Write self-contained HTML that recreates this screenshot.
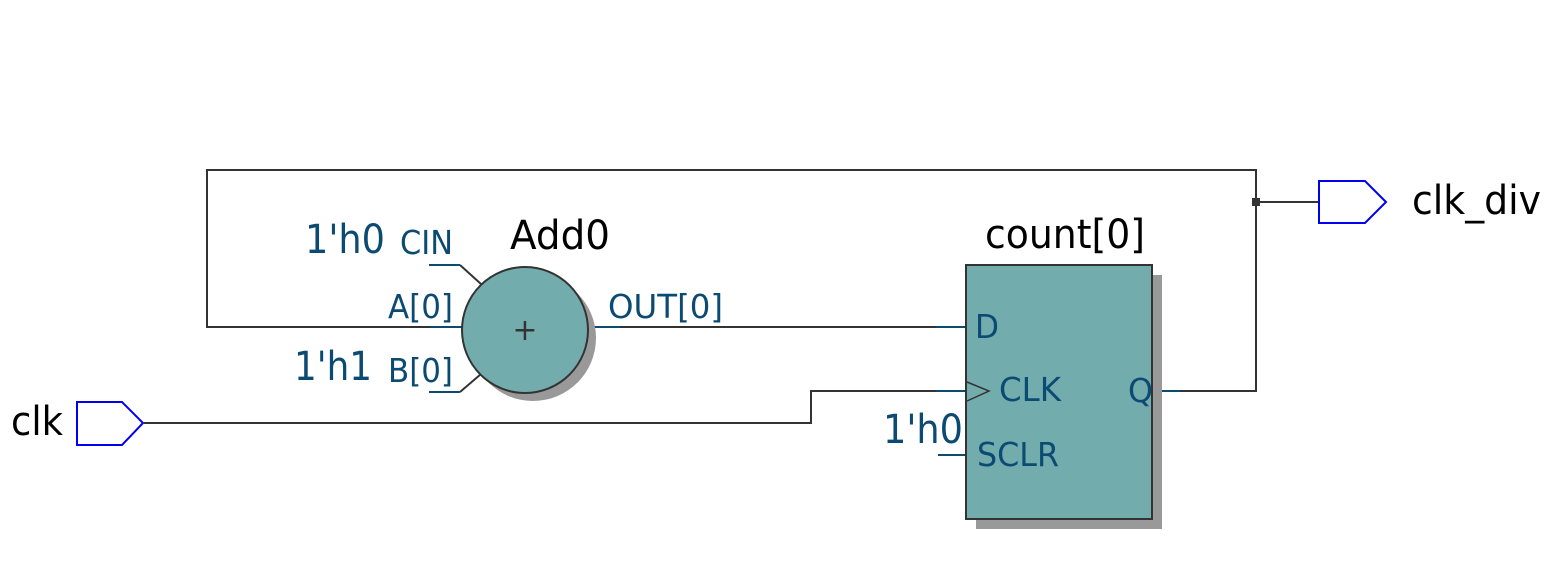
<!DOCTYPE html>
<html><head><meta charset="utf-8"><style>html,body{margin:0;padding:0;background:#fff}svg{display:block}</style></head>
<body>
<svg width="1550" height="581" xmlns="http://www.w3.org/2000/svg" font-family="DejaVu Sans, Liberation Sans, sans-serif">
<g stroke="#333" stroke-width="2" fill="none">
<polyline points="462,327 207,327 207,170 1256,170 1256,391 1152,391"/>
<line x1="1256" y1="202" x2="1319" y2="202"/>
<line x1="588" y1="327" x2="966" y2="327"/>
<polyline points="144,423 811,423 811,391 966,391"/>
<line x1="460" y1="265" x2="481" y2="284"/>
<line x1="460" y1="392" x2="481" y2="374"/>
</g>
<g stroke="#0b4a72" stroke-width="2">
<line x1="429" y1="265" x2="460" y2="265"/>
<line x1="429" y1="392" x2="460" y2="392"/>
<line x1="938" y1="455" x2="966" y2="455"/>
<line x1="430" y1="327" x2="462" y2="327"/>
<line x1="588" y1="327" x2="620" y2="327"/>
<line x1="936" y1="327" x2="966" y2="327"/>
<line x1="936" y1="391" x2="966" y2="391"/>
<line x1="1152" y1="391" x2="1180" y2="391"/>
</g>
<rect x="1252" y="198" width="8" height="8" fill="#333"/>
<polygon points="77,402 122,402 143,423 122,445 77,445" fill="#fff" stroke="#0000ee" stroke-width="2"/>
<polygon points="1319,181 1365,181 1386,202 1365,223 1319,223" fill="#fff" stroke="#0000ee" stroke-width="2"/>
<circle cx="533" cy="338" r="63" fill="#999"/>
<circle cx="525" cy="330" r="63" fill="#73acad" stroke="#333" stroke-width="2"/>
<text x="525" y="340" font-size="30" fill="#333" text-anchor="middle">+</text>
<rect x="976" y="275" width="186" height="254" fill="#999"/>
<rect x="966" y="265" width="186" height="254" fill="#73acad" stroke="#333" stroke-width="2"/>
<polyline points="967,382 989,391 967,401" fill="none" stroke="#333" stroke-width="1.5"/>
<g fill="#000">
<text x="11" y="435" font-size="40" textLength="52" lengthAdjust="spacingAndGlyphs">clk</text>
<text x="1412" y="214" font-size="40" textLength="129" lengthAdjust="spacingAndGlyphs">clk_div</text>
<text x="510" y="249" font-size="40" textLength="100" lengthAdjust="spacingAndGlyphs">Add0</text>
<text x="985" y="248" font-size="40" textLength="160" lengthAdjust="spacingAndGlyphs">count[0]</text>
</g>
<g fill="#0b4a72">
<text x="305" y="253" font-size="40" textLength="80" lengthAdjust="spacingAndGlyphs">1'h0</text>
<text x="294" y="380" font-size="40" textLength="78" lengthAdjust="spacingAndGlyphs">1'h1</text>
<text x="883" y="443" font-size="40" textLength="80" lengthAdjust="spacingAndGlyphs">1'h0</text>
<text x="400" y="254" font-size="33" textLength="53" lengthAdjust="spacingAndGlyphs">CIN</text>
<text x="388" y="318" font-size="33" textLength="65" lengthAdjust="spacingAndGlyphs">A[0]</text>
<text x="388" y="382" font-size="33" textLength="65" lengthAdjust="spacingAndGlyphs">B[0]</text>
<text x="608" y="318" font-size="33" textLength="115" lengthAdjust="spacingAndGlyphs">OUT[0]</text>
<text x="975" y="338" font-size="33" textLength="24" lengthAdjust="spacingAndGlyphs">D</text>
<text x="999" y="401" font-size="33" textLength="62" lengthAdjust="spacingAndGlyphs">CLK</text>
<text x="977" y="466" font-size="33" textLength="82" lengthAdjust="spacingAndGlyphs">SCLR</text>
<text x="1128" y="402" font-size="33" textLength="25" lengthAdjust="spacingAndGlyphs">Q</text>
</g>
</svg>
</body></html>
